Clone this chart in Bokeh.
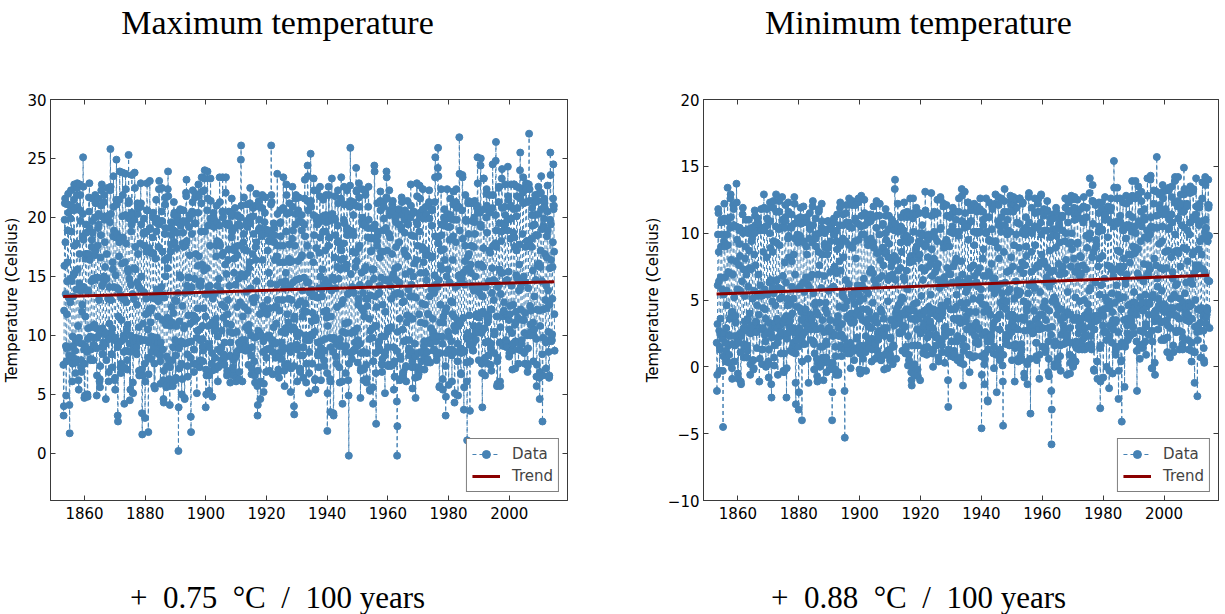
from bokeh.plotting import figure
from bokeh.layouts import row, column
from bokeh.models import Range1d, FixedTicker, LinearAxis, Legend, LegendItem
from bokeh.core.properties import value
from bokeh.embed import file_html
from bokeh.resources import INLINE

# ---------------- data (monthly means) ----------------
first_year = 1853

tmax_by_year = [
[7.5,3.2,4.0,12.1,15.9,19.8,21.2,21.6,17.9,13.5,9.1,4.9],
[7.8,8.9,11.8,14.6,16.2,18.9,21.1,22.0,20.4,13.2,9.0,8.3],
[4.1,1.7,7.9,12.8,14.8,19.9,22.3,21.0,18.8,14.6,8.2,6.1],
[7.6,9.9,9.1,13.3,15.1,20.6,21.5,22.8,17.6,15.3,8.7,8.0],
[6.8,7.7,9.6,13.9,17.8,21.9,22.5,22.9,20.9,15.6,10.8,9.4],
[6.2,5.4,9.8,14.4,16.9,22.8,20.6,21.9,19.7,13.8,7.3,7.9],
[6.9,9.3,12.0,12.6,18.4,20.3,25.1,22.6,18.1,14.1,8.8,4.7],
[7.6,4.9,9.1,11.6,16.5,16.9,19.4,18.7,16.9,13.8,8.6,5.0],
[4.8,9.7,10.6,13.8,16.9,21.7,20.5,22.9,19.1,16.4,9.9,8.0],
[7.9,8.8,10.7,14.6,17.5,18.1,19.7,21.6,18.7,14.8,7.9,9.1],
[9.2,9.8,10.9,14.7,16.8,20.0,21.9,21.2,17.2,14.9,10.6,8.9],
[4.9,6.6,9.8,14.9,17.6,19.1,21.6,20.3,19.4,13.0,10.1,6.1],
[6.3,5.6,7.4,16.6,18.5,21.0,22.3,20.1,22.8,14.2,10.6,8.4],
[9.1,9.0,9.4,14.5,15.0,21.3,21.9,19.8,17.9,15.8,10.1,9.3],
[4.6,10.2,7.9,14.8,16.9,20.1,20.1,22.5,19.9,13.1,9.7,6.1],
[6.9,9.7,11.0,14.1,19.6,22.3,25.8,22.6,20.3,13.0,8.4,10.2],
[8.4,10.6,7.3,16.2,15.6,18.4,23.5,20.9,18.9,14.1,9.6,6.2],
[6.4,5.4,9.8,15.1,18.3,21.5,24.9,21.1,18.6,14.0,9.0,3.2],
[2.7,9.2,11.6,13.9,16.7,17.9,21.5,23.9,18.3,13.4,7.3,6.8],
[7.6,9.5,11.3,13.2,16.1,20.1,23.8,21.9,18.3,13.1,10.0,8.6],
[7.3,4.2,9.7,13.0,16.2,20.2,23.7,22.4,17.8,12.8,10.4,8.7],
[7.9,7.1,10.9,15.6,15.4,21.2,25.3,21.4,19.9,14.8,9.3,4.5],
[8.6,5.4,10.0,14.3,18.8,19.4,20.4,23.6,20.2,13.5,9.6,6.0],
[5.1,8.9,9.5,13.1,15.7,19.8,23.8,22.5,17.5,15.6,9.8,9.6],
[8.6,9.0,8.4,12.6,14.5,21.2,20.3,20.8,16.9,14.2,10.7,7.0],
[6.6,9.5,9.7,14.0,17.8,20.9,22.9,21.2,19.4,15.0,7.1,3.4],
[1.6,6.6,9.6,11.0,13.7,18.7,18.6,19.9,17.6,13.6,7.6,3.0],
[6.1,9.6,11.8,13.1,17.1,18.8,20.6,22.9,20.6,11.9,10.5,8.1],
[1.8,6.7,9.4,12.2,17.4,19.0,23.1,19.1,17.0,11.1,12.1,8.0],
[8.6,9.9,12.3,13.2,17.0,18.3,20.0,20.4,16.9,13.3,9.0,5.7],
[7.6,9.5,5.5,13.1,16.5,19.6,19.9,21.5,18.8,13.9,9.8,8.5],
[9.3,9.4,11.6,12.9,17.5,19.4,22.4,23.1,19.7,13.2,8.3,7.8],
[5.9,9.4,8.9,13.5,14.1,20.5,22.5,19.7,17.1,11.3,8.8,6.2],
[4.6,4.3,7.0,13.2,16.4,18.6,21.1,21.7,19.1,15.0,10.9,5.6],
[5.8,8.2,7.4,11.5,15.7,22.4,23.9,21.8,16.6,11.4,7.9,6.3],
[5.7,4.1,7.3,10.8,17.1,19.1,17.7,19.6,18.5,12.4,11.1,7.9],
[6.0,5.7,9.0,11.9,18.9,21.3,20.2,20.4,17.9,13.0,9.6,6.2],
[8.3,6.4,10.8,12.9,17.4,18.7,19.6,20.1,19.7,13.6,9.2,0.2],
[3.9,8.9,7.2,11.2,15.1,20.6,20.7,19.5,19.3,14.9,9.5,7.6],
[5.0,7.5,6.3,12.5,17.8,18.7,19.7,20.6,17.5,10.6,10.8,4.7],
[4.6,9.3,13.6,17.6,19.6,22.1,21.8,23.2,18.0,14.2,8.4,7.4],
[6.5,9.4,11.7,14.9,14.9,19.2,20.2,19.9,16.8,13.7,11.0,8.1],
[3.1,1.8,9.5,14.1,18.6,20.5,20.3,21.3,22.3,11.7,11.2,7.6],
[6.9,8.8,11.6,14.8,19.5,21.7,22.0,19.5,16.9,11.4,7.6,7.5],
[5.1,9.8,10.4,12.3,15.9,20.4,22.8,21.8,16.7,14.3,10.5,7.3],
[9.6,7.8,7.9,14.2,14.6,18.8,21.2,23.4,22.2,16.0,10.8,9.7],
[7.8,8.7,9.1,12.3,15.5,22.3,23.3,24.0,18.8,13.5,11.6,3.9],
[7.1,5.0,6.6,13.5,15.7,20.6,23.9,21.6,19.3,14.1,10.8,9.3],
[6.6,5.3,9.0,14.2,17.6,19.9,23.3,21.4,19.4,13.5,7.6,7.0],
[8.5,4.8,11.1,13.1,13.6,19.7,20.4,19.9,19.2,13.5,10.4,7.1],
[8.1,10.6,10.9,11.4,16.7,17.6,21.0,19.6,18.0,14.2,9.9,6.1],
[7.4,7.3,8.8,14.8,17.9,19.3,23.4,21.3,17.6,13.8,8.6,7.5],
[7.9,9.0,10.4,12.6,16.8,20.5,23.4,20.0,17.0,11.5,8.4,8.0],
[8.1,7.5,9.4,12.4,16.0,19.5,22.1,23.4,19.4,15.2,11.0,6.6],
[7.0,6.8,11.8,13.0,16.4,17.3,19.5,20.5,19.3,14.2,10.3,8.3],
[6.0,9.4,8.2,10.9,18.3,20.1,21.6,20.3,18.8,17.3,10.2,7.3],
[6.8,6.6,7.9,15.3,16.5,17.2,19.1,20.8,17.5,14.3,8.2,6.1],
[6.4,8.6,10.3,12.4,16.8,20.2,19.4,20.1,17.6,14.8,6.3,9.4],
[6.9,8.8,9.2,12.8,19.3,20.0,24.9,26.1,21.0,15.2,9.6,9.2],
[6.1,8.8,11.6,15.0,17.9,18.6,21.7,17.3,15.0,12.4,9.6,9.1],
[8.7,9.0,10.7,13.7,17.2,19.7,19.6,21.1,19.2,15.3,12.1,8.7],
[7.5,10.4,10.9,15.7,16.2,20.0,21.2,22.5,19.5,14.0,10.0,8.3],
[6.7,7.2,9.0,13.1,16.9,20.9,20.1,20.8,18.6,12.8,6.8,7.8],
[9.8,6.6,6.0,13.2,17.5,16.4,21.0,22.0,17.9,14.6,9.9,5.7],
[3.2,4.1,7.0,10.4,18.9,21.4,20.9,19.8,19.1,11.8,10.2,4.6],
[6.1,10.0,10.0,11.9,18.4,18.6,20.8,21.9,16.4,12.5,8.6,9.5],
[5.2,5.9,8.6,12.3,19.6,20.4,19.0,21.7,18.8,12.0,6.9,8.1],
[8.8,9.9,11.8,13.0,17.2,18.9,18.6,18.9,18.0,15.3,10.0,7.0],
[9.8,8.9,12.3,14.4,18.0,21.1,26.1,21.9,21.3,18.6,9.5,9.6],
[6.7,8.6,9.3,10.7,19.5,19.1,17.9,18.5,16.4,12.4,9.3,8.1],
[8.4,9.4,11.0,12.4,14.3,16.7,23.7,20.3,17.6,13.0,7.1,6.9],
[8.5,6.4,8.2,12.1,16.2,19.5,20.6,19.6,18.4,14.5,10.3,9.4],
[8.0,8.6,9.1,13.0,17.6,20.8,23.4,20.7,16.2,14.0,7.0,5.7],
[7.5,10.2,10.6,14.6,15.3,18.8,22.8,21.9,20.3,11.8,8.9,7.6],
[7.4,7.4,11.1,13.1,16.5,17.7,21.2,20.4,16.2,14.2,8.6,5.2],
[7.2,9.1,10.5,13.0,16.3,18.2,22.6,20.9,18.9,14.5,10.7,7.4],
[4.0,3.3,11.6,11.4,17.6,19.4,21.6,20.3,21.9,14.7,10.3,9.2],
[8.8,6.1,9.9,12.6,16.3,20.6,20.3,21.7,19.7,14.8,10.2,7.2],
[6.9,7.0,8.3,12.9,16.6,19.6,20.2,18.9,16.8,13.8,11.6,8.3],
[9.0,6.4,9.0,12.1,14.9,19.4,21.6,23.2,18.4,12.7,10.0,9.6],
[6.0,7.6,12.0,14.5,17.6,21.4,24.4,23.5,20.6,14.5,9.6,5.1],
[6.8,8.6,9.6,13.6,16.8,21.1,25.4,21.4,20.9,13.9,10.1,11.2],
[7.6,10.0,11.9,13.3,16.2,20.2,23.3,22.3,18.5,13.4,10.3,6.2],
[6.3,5.4,11.5,11.3,17.4,19.8,20.0,22.3,19.4,13.2,9.4,8.3],
[8.4,8.6,7.3,14.0,17.0,19.6,21.8,22.6,18.3,15.0,9.5,6.2],
[8.9,8.3,13.9,13.3,15.6,20.0,20.1,21.5,18.8,14.3,12.0,7.9],
[7.4,8.7,9.7,14.7,17.2,18.8,20.2,21.9,19.6,12.1,11.5,6.8],
[1.9,5.1,10.8,14.5,17.6,22.6,19.7,21.9,18.3,14.1,9.8,6.3],
[3.5,6.1,9.0,11.6,13.8,19.9,23.3,19.8,20.3,14.9,9.7,8.6],
[3.4,3.2,9.8,14.7,16.6,19.8,19.9,21.8,18.5,14.0,8.2,9.5],
[7.6,9.3,12.4,15.8,17.9,19.3,22.3,21.2,18.0,14.8,9.1,7.3],
[9.4,6.0,9.7,15.6,16.4,17.4,21.6,23.4,17.2,12.7,9.1,6.1],
[4.2,10.3,13.0,16.5,17.8,19.8,22.6,21.1,19.5,15.8,11.0,8.6],
[6.8,10.2,9.1,15.7,16.0,18.9,22.3,19.1,18.5,13.5,11.1,6.2],
[4.9,-0.2,7.6,13.6,18.9,20.9,22.7,25.9,21.4,15.2,10.2,8.5],
[8.6,8.0,14.1,14.0,17.1,18.8,21.3,20.2,18.5,13.6,10.4,8.8],
[8.7,10.3,9.4,15.8,17.0,21.0,24.2,22.2,22.3,16.3,10.6,9.1],
[7.7,9.6,12.6,13.1,17.4,22.9,21.7,20.9,17.6,14.3,9.3,4.7],
[7.0,7.2,8.5,12.3,15.3,19.7,22.4,20.0,19.4,13.6,12.1,8.6],
[6.2,7.1,11.6,15.5,19.3,19.5,22.3,21.9,15.8,13.1,7.5,6.0],
[6.3,8.5,12.5,13.1,18.3,19.1,20.9,22.6,19.8,14.4,11.4,9.7],
[5.4,5.3,10.4,13.4,17.1,18.2,18.3,19.1,17.2,15.6,10.6,9.8],
[5.6,4.2,7.8,15.6,14.8,19.1,24.4,23.9,19.4,13.3,10.8,8.5],
[6.8,2.5,10.8,12.4,18.0,17.6,21.2,18.5,18.8,13.5,9.3,8.7],
[8.8,9.5,13.6,14.2,16.6,21.4,22.2,20.6,17.1,14.9,9.9,7.6],
[6.9,7.5,8.0,12.6,17.1,18.9,21.3,20.9,19.9,14.7,9.9,8.3],
[5.1,8.6,12.0,14.7,19.1,21.7,23.9,23.4,21.6,17.2,10.3,9.0],
[7.4,7.5,10.6,14.6,18.6,22.3,20.2,20.6,18.3,14.2,10.6,7.4],
[7.5,10.7,13.1,14.9,16.9,21.1,20.9,21.4,20.5,15.2,9.0,5.4],
[7.6,7.8,6.5,13.5,15.7,19.9,20.0,19.6,17.5,14.7,8.7,4.4],
[-0.2,2.3,10.3,13.6,15.8,20.4,20.7,19.4,17.9,14.5,11.4,6.2],
[6.3,8.2,8.0,13.5,19.2,19.0,21.7,21.3,20.2,12.8,10.5,6.7],
[6.4,6.9,9.5,12.9,17.2,19.8,18.7,20.6,16.9,15.2,7.3,7.4],
[6.1,9.6,11.1,11.7,16.7,21.4,20.1,20.3,19.4,13.9,8.7,8.9],
[8.3,9.6,11.6,13.3,15.4,20.0,22.8,21.0,18.5,14.3,8.6,7.3],
[7.8,5.5,11.4,13.3,15.0,20.5,20.4,20.4,18.4,16.1,9.3,6.4],
[8.2,4.7,7.3,13.2,16.4,19.6,22.9,21.8,19.4,17.6,8.5,6.5],
[6.9,6.7,7.3,11.8,18.8,22.7,20.4,21.6,20.1,15.3,11.1,7.1],
[7.8,8.6,8.5,12.7,17.5,17.3,22.4,20.7,19.9,16.2,9.1,9.5],
[7.1,8.1,11.0,12.6,15.3,16.8,20.9,20.3,17.2,14.7,9.5,8.6],
[7.7,8.0,11.8,11.8,16.8,21.1,21.3,22.3,19.9,13.3,9.6,7.7],
[9.4,9.3,10.6,13.9,16.6,19.3,20.6,20.7,16.7,11.4,10.1,10.3],
[9.9,8.7,8.8,13.6,15.1,21.3,23.4,25.1,18.4,14.3,9.5,8.6],
[7.9,8.3,9.9,14.1,18.3,24.2,25.9,23.5,17.8,14.7,9.9,5.6],
[5.7,8.5,11.1,12.6,15.9,17.2,22.4,19.4,18.5,15.6,9.9,9.3],
[6.3,5.4,11.1,11.6,17.3,19.3,20.0,20.7,19.8,16.4,12.0,7.4],
[3.2,4.8,8.5,12.3,15.0,19.9,22.4,20.3,19.2,15.6,10.3,8.7],
[5.8,9.9,8.8,14.5,18.1,19.2,19.9,21.6,20.2,12.9,9.5,8.8],
[8.3,6.1,11.8,12.8,16.4,18.4,21.1,22.2,19.8,11.6,10.8,4.3],
[5.1,8.6,10.4,14.1,17.9,21.3,22.4,20.8,19.8,14.2,11.3,7.8],
[9.3,4.9,10.9,10.8,15.1,20.9,26.8,23.7,18.9,14.8,11.0,8.9],
[6.8,6.7,8.5,14.7,14.9,20.6,23.6,23.4,18.2,15.3,11.5,8.6],
[3.7,5.6,8.7,14.3,16.3,17.6,21.9,19.8,19.7,15.6,7.7,9.9],
[6.1,1.1,9.7,10.2,16.7,21.2,21.4,18.6,16.9,15.7,11.7,9.2],
[3.6,7.8,9.2,16.0,15.3,17.6,21.3,21.2,19.7,14.2,9.9,8.8],
[9.3,8.7,10.8,13.8,17.5,20.0,19.6,21.4,18.6,15.0,9.6,10.4],
[10.2,10.3,11.6,11.8,20.8,21.0,25.1,22.9,20.4,16.0,10.6,7.9],
[10.8,11.5,13.6,14.1,20.4,19.4,24.4,25.0,19.2,16.0,10.2,7.6],
[6.8,3.9,12.0,13.3,15.8,17.4,23.3,23.3,20.7,14.1,10.6,8.1],
[6.6,9.4,11.8,14.1,20.0,22.0,22.4,21.0,18.7,11.4,11.1,7.6],
[9.5,8.3,11.6,14.6,17.2,21.9,20.4,20.5,17.0,12.2,7.5,8.9],
[9.3,7.0,12.2,13.6,15.7,20.8,24.5,21.9,17.6,14.7,13.0,10.1],
[8.5,10.3,10.1,14.6,17.8,20.2,24.8,26.4,18.9,17.5,11.6,5.7],
[7.8,5.9,8.1,14.1,14.3,21.3,22.5,22.6,19.5,15.6,9.4,6.1],
[5.7,10.7,13.5,15.3,18.0,18.8,23.3,24.1,20.8,15.3,11.6,9.2],
[9.1,12.0,12.1,12.8,19.5,19.3,20.9,22.8,20.2,14.6,9.6,9.3],
[9.4,9.0,11.7,14.7,18.9,19.8,24.3,21.8,21.5,15.4,11.3,8.2],
[8.5,10.5,11.8,12.5,18.2,20.9,21.0,22.8,19.9,14.2,10.2,8.7],
[7.1,9.2,9.3,12.6,18.7,20.7,22.8,22.8,18.3,17.5,10.9,7.2],
[9.5,11.1,12.0,15.1,17.2,20.1,21.8,22.6,20.8,14.8,11.5,9.4],
[7.6,8.8,13.8,16.0,17.7,22.5,24.0,25.5,21.6,14.1,12.2,8.7],
[9.3,9.6,11.3,14.7,18.6,22.3,22.1,23.4,21.2,15.0,11.3,8.5],
[10.2,7.6,11.9,14.5,17.5,22.6,22.9,22.4,21.3,18.0,10.0,7.6],
[6.9,7.4,8.9,14.0,17.6,22.8,27.1,21.4,22.4,17.7,12.5,10.0],
[10.9,10.3,12.1,18.2,17.5,20.2,20.8,21.4,19.3,15.5,11.1,7.8],
[10.0,10.5,10.5,13.3,19.4,20.2,21.9,21.3,18.5,14.7,9.7,6.5],
[5.7,7.5,12.2,15.9,18.5,21.4,22.0,22.6,20.3,16.1,12.1,6.4],
[4.6,6.9,10.8,15.8,17.2,22.1,23.5,20.7,19.0,14.6,8.4,2.7],
[6.6,9.8,12.2,19.3,19.1,19.9,21.6,21.2,20.8,16.9,13.0,9.6],
[9.4,7.2,14.2,12.3,16.6,18.4,20.5,22.7,18.9,13.8,10.3,8.6],
[6.5,6.4,6.6,12.6,15.7,19.8,25.5,23.6,19.4,16.4,9.5,9.9],
[9.6,10.1,13.1,15.8,17.9,21.6,24.5,20.7,21.0,17.1,11.8,8.7],
]

tmin_by_year = [
[1.8,-1.8,-0.6,3.2,6.1,9.9,11.8,11.5,8.6,6.4,2.7,-0.3],
[1.5,1.3,2.4,3.6,6.7,9.0,10.8,11.0,9.9,5.8,2.1,2.2],
[-0.3,-4.5,0.8,2.5,5.4,9.4,12.2,11.1,9.0,6.7,1.8,0.4],
[1.2,2.9,0.6,4.6,5.7,9.9,10.9,13.4,9.1,7.1,1.6,2.4],
[0.9,0.3,2.3,3.6,7.0,10.4,12.6,12.9,11.2,8.0,3.8,4.1],
[-0.1,-0.9,1.7,4.1,6.9,12.1,10.5,11.8,10.6,5.2,0.4,2.3],
[1.6,3.4,3.8,3.3,7.9,10.5,13.7,12.3,9.5,5.8,1.9,-0.5],
[1.9,-0.9,1.8,2.4,7.6,9.2,10.2,10.4,8.3,5.7,1.1,-1.1],
[-1.3,2.3,2.4,2.6,6.4,10.2,11.4,11.9,10.0,7.3,2.9,1.7],
[0.7,1.5,3.4,5.3,8.1,9.0,10.2,11.0,10.1,6.9,0.7,2.7],
[3.5,1.6,1.2,3.6,6.0,10.0,10.3,11.0,8.7,7.4,4.0,2.6],
[-0.6,0.2,2.5,3.1,7.3,9.4,10.1,10.4,9.6,5.1,2.9,0.5],
[0.5,-0.2,-0.1,5.7,8.4,10.0,11.7,11.3,10.6,7.6,3.4,2.6],
[3.3,2.6,1.4,4.6,5.3,11.1,11.1,10.8,10.2,6.9,3.9,2.9],
[-1.1,2.9,0.6,5.5,6.1,10.2,10.4,11.8,10.3,5.3,1.3,0.2],
[1.3,2.8,2.9,4.4,8.6,10.4,12.9,11.9,10.2,5.8,2.4,4.3],
[1.9,3.6,0.0,5.5,5.5,8.2,11.8,11.1,10.6,5.4,2.6,0.4],
[0.2,-0.8,1.3,3.3,6.3,10.0,12.3,10.9,8.9,6.5,2.5,-1.3],
[-2.3,2.2,2.9,4.9,5.9,8.6,11.9,12.4,9.4,5.5,0.7,0.1],
[1.6,3.0,3.3,4.6,6.4,10.5,12.9,11.6,9.3,6.5,3.6,2.9],
[1.8,-0.6,2.2,3.4,5.9,10.3,12.4,11.6,9.1,5.1,3.1,2.3],
[2.5,1.0,2.6,5.8,5.2,10.4,12.7,11.0,10.5,6.8,3.3,-0.3],
[3.3,-0.4,1.0,3.6,7.8,10.4,11.2,12.1,10.9,6.3,3.8,-2.3],
[-0.1,2.1,2.5,4.6,5.1,9.6,12.3,11.6,9.8,8.2,3.0,3.4],
[2.9,2.6,1.2,3.8,4.7,10.5,10.4,11.4,7.9,6.0,4.0,1.5],
[1.1,2.9,1.8,5.1,8.4,10.7,12.7,12.2,9.6,6.9,1.0,-1.2],
[-2.8,1.5,2.0,2.5,4.5,9.6,9.9,11.1,9.3,5.8,1.5,-3.2],
[-1.9,2.9,2.7,4.4,6.0,9.8,11.2,11.9,10.7,4.1,3.5,2.2],
[-4.0,0.4,1.7,2.4,6.3,9.4,12.0,10.8,9.3,3.7,5.6,1.7],
[2.6,3.2,4.1,4.3,6.7,9.0,11.2,10.8,8.4,6.2,2.9,0.6],
[2.9,3.3,-1.2,3.6,6.0,9.6,10.6,11.5,10.3,6.7,3.9,2.0],
[3.5,2.8,3.5,3.6,6.9,9.3,12.0,12.4,10.6,5.5,1.9,1.7],
[-0.2,3.1,1.0,4.6,4.8,9.9,11.1,9.6,9.0,4.1,2.8,0.6],
[-0.7,-1.1,0.3,3.9,6.9,8.6,11.6,11.8,10.0,7.6,4.8,0.0],
[0.3,1.5,0.2,2.9,5.9,10.4,12.2,10.9,8.4,3.5,1.5,0.7],
[0.3,-1.0,0.6,2.6,6.8,9.2,10.0,10.2,8.9,4.3,4.8,1.9],
[0.7,-0.4,1.7,4.0,8.4,10.3,10.9,10.9,8.9,5.7,2.9,0.3],
[2.9,-0.2,2.6,3.5,7.1,9.4,10.3,10.6,10.6,5.9,2.6,-4.0],
[-1.9,0.3,-0.1,2.3,6.0,9.9,11.1,10.8,9.9,7.5,2.4,1.5],
[-0.2,0.8,-0.6,3.3,7.0,9.4,10.2,11.4,8.8,3.5,3.8,-0.6],
[-0.4,2.9,2.3,4.5,7.9,10.6,11.9,12.3,9.1,7.2,1.6,1.4],
[0.8,2.4,3.2,5.4,5.5,9.6,11.4,10.6,8.2,5.2,4.4,2.1],
[-1.8,-5.3,1.3,4.5,6.5,9.4,11.5,12.1,10.8,3.7,4.9,1.6],
[1.2,1.0,3.8,3.6,6.2,10.8,12.6,10.5,9.1,3.9,1.0,1.8],
[-0.1,3.7,3.3,4.0,5.4,10.4,12.1,12.4,8.9,5.2,3.5,1.4],
[3.3,1.2,0.5,4.7,5.6,9.4,11.1,12.1,10.9,8.1,3.9,3.9],
[2.1,2.2,1.4,4.2,6.1,10.7,12.3,12.6,9.5,5.4,4.9,-0.2],
[1.6,1.0,-0.5,3.8,5.9,10.5,12.8,11.3,9.9,6.1,4.3,3.5],
[0.6,-0.3,1.3,5.1,6.6,9.9,12.5,11.5,10.6,5.8,1.6,1.1],
[2.3,-0.3,3.5,3.3,4.3,9.5,11.1,10.8,9.1,5.5,3.0,1.4],
[1.9,4.1,3.6,3.0,7.1,9.5,11.4,10.9,9.6,7.3,2.9,0.4],
[2.1,1.3,1.4,4.8,7.0,9.3,12.0,11.2,8.9,6.5,1.8,1.8],
[0.6,1.7,3.4,3.8,6.1,10.4,12.4,11.3,8.5,3.3,1.2,2.0],
[2.4,0.9,2.2,2.7,6.6,9.9,11.3,12.2,8.6,8.0,4.3,0.5],
[0.6,0.5,2.6,4.1,6.8,8.9,10.6,10.7,8.9,7.6,3.6,2.6],
[-0.2,2.9,0.9,2.3,8.5,10.0,11.8,11.3,9.5,8.6,2.9,0.9],
[0.9,-0.1,1.2,4.9,6.5,8.2,10.3,11.3,9.2,6.8,1.3,0.5],
[0.9,2.2,2.1,3.5,7.5,10.6,10.7,11.0,7.8,6.9,0.2,3.5],
[1.6,1.6,1.5,3.1,8.3,10.2,13.3,14.0,10.7,6.5,3.2,4.1],
[0.6,3.8,4.3,3.5,8.0,10.3,12.2,10.1,7.2,4.6,3.3,3.6],
[2.6,2.5,3.7,4.8,7.4,9.3,10.5,11.2,10.3,8.6,5.2,2.6],
[1.2,4.0,3.1,5.1,6.7,10.2,11.5,12.3,9.7,6.5,3.0,3.9],
[1.0,1.3,1.5,4.3,7.2,9.8,11.2,11.6,9.3,5.8,0.1,2.3],
[4.1,0.9,0.5,4.3,7.9,7.8,11.4,12.6,9.5,8.3,3.6,-0.4],
[-1.0,-1.4,0.0,1.6,7.9,11.1,12.6,11.5,10.1,4.7,4.2,-0.6],
[0.2,3.6,1.6,3.5,8.4,8.7,11.4,11.9,9.0,4.8,2.8,3.8],
[-0.2,-0.7,1.6,3.6,8.1,9.4,10.0,11.5,8.4,4.0,-1.0,2.5],
[2.8,2.6,3.9,5.3,7.4,10.0,10.6,9.8,9.2,6.5,3.0,1.0],
[4.1,1.4,3.3,4.2,7.2,9.0,13.1,11.7,11.4,9.1,1.4,3.6],
[0.9,2.7,1.5,2.2,8.2,9.5,9.7,9.9,7.5,4.5,3.0,3.0],
[2.4,3.3,3.4,4.0,5.4,7.7,13.0,11.3,8.8,6.8,1.0,1.3],
[2.9,0.0,1.2,4.3,8.1,10.1,11.6,11.4,9.7,7.1,4.2,3.9],
[2.2,2.4,1.6,3.8,7.4,9.4,12.5,11.5,7.7,6.5,0.7,0.4],
[2.1,4.2,3.6,5.9,6.0,10.3,12.7,12.5,10.4,4.6,3.8,1.9],
[1.6,1.1,4.0,4.4,6.4,9.2,12.0,12.2,8.9,6.7,2.9,0.3],
[2.6,2.3,3.0,4.6,6.2,9.5,12.1,11.3,9.3,7.4,4.9,1.0],
[-1.0,-3.0,1.3,2.6,7.0,9.0,11.3,11.2,10.1,6.9,4.3,4.3],
[2.6,0.8,1.9,4.3,6.3,10.5,11.5,11.9,10.0,7.5,3.6,0.9],
[1.2,0.7,1.0,4.3,7.8,10.1,11.6,11.0,8.1,4.5,5.4,1.9],
[3.5,0.5,2.3,3.6,6.5,9.8,11.6,12.6,10.1,6.1,3.6,3.3],
[0.3,0.7,3.3,4.8,7.9,10.9,13.3,12.8,10.9,6.9,2.1,-1.4],
[1.6,0.2,1.2,4.4,6.3,10.4,13.1,11.5,10.7,6.1,3.4,5.6],
[1.5,3.8,2.8,4.8,5.8,10.5,12.3,12.3,9.5,6.6,4.1,0.9],
[0.9,-0.4,4.1,3.0,7.4,10.9,11.7,12.0,10.9,6.2,2.7,2.6],
[2.9,2.8,0.7,5.1,7.6,10.1,12.1,12.2,9.1,6.8,2.3,0.8],
[3.1,1.8,4.1,3.3,6.3,10.1,11.6,12.0,10.0,7.1,6.0,1.7],
[1.9,2.8,2.9,5.0,7.4,10.1,11.8,12.6,10.1,5.2,5.8,0.8],
[-4.6,-0.6,2.4,4.7,8.1,11.6,11.0,10.6,8.8,6.8,4.1,0.2],
[-1.3,0.6,1.0,2.6,4.6,10.0,12.6,11.2,10.1,6.8,2.2,1.9],
[-2.5,-2.6,1.3,4.3,7.1,9.5,11.2,12.3,9.4,6.9,2.4,3.9],
[1.9,2.4,2.3,5.9,7.7,10.3,12.0,11.8,9.4,6.6,2.9,1.0],
[3.3,-0.1,1.5,5.5,6.6,9.3,12.2,12.9,9.4,6.2,3.7,0.9],
[-1.9,3.6,3.6,5.8,8.9,10.9,12.7,12.1,10.6,8.1,3.9,2.8],
[0.5,3.9,1.3,4.8,6.2,10.1,12.6,11.2,10.6,5.5,4.5,0.1],
[-1.1,-4.4,0.9,5.0,8.6,11.6,12.4,13.3,10.6,6.3,4.4,2.0],
[2.4,1.7,4.3,4.9,7.1,9.9,11.0,11.6,10.2,5.6,3.8,2.9],
[2.3,2.9,1.6,5.8,7.2,10.1,12.8,12.4,12.1,8.2,3.9,2.6],
[0.5,3.4,3.3,3.9,7.5,11.6,12.7,12.1,9.1,5.1,3.0,-1.1],
[1.4,1.7,1.6,3.7,6.4,9.9,12.5,11.9,10.8,5.7,5.4,2.8],
[0.6,0.4,3.6,5.4,8.9,10.7,12.6,12.6,7.3,5.6,0.9,0.6],
[0.5,1.7,1.3,3.7,7.8,10.0,12.2,12.3,10.2,7.0,4.9,3.5],
[-0.5,-0.8,2.7,3.7,7.6,9.9,10.4,11.2,9.0,8.3,4.4,4.2],
[0.2,-1.3,0.4,4.7,5.5,10.2,12.7,13.0,10.8,6.1,3.2,2.9],
[0.6,-3.5,2.7,3.0,7.1,8.6,11.9,10.0,10.2,6.3,2.5,3.0],
[2.7,2.6,6.0,4.2,5.9,10.5,12.6,11.5,9.1,7.4,3.5,1.8],
[0.8,1.8,0.5,3.6,7.6,10.4,12.2,12.5,11.6,7.5,3.2,2.8],
[-0.9,0.9,3.9,5.6,7.8,10.8,12.8,12.9,9.9,8.4,3.9,3.9],
[1.5,1.5,2.9,4.5,7.9,11.3,11.8,11.5,10.2,7.7,4.9,1.4],
[1.1,4.4,3.5,6.3,6.7,10.2,11.6,12.4,11.7,7.4,2.9,-0.4],
[1.9,0.6,-0.7,4.2,6.0,8.7,10.8,11.1,9.7,7.1,2.4,-1.8],
[-5.8,-3.2,3.0,4.9,6.4,10.3,11.4,11.1,9.9,7.2,5.2,0.2],
[0.0,1.6,1.9,5.0,8.9,10.3,11.9,11.6,9.8,4.6,3.9,0.6],
[0.4,0.1,1.7,4.3,7.7,10.4,10.7,11.1,9.3,6.9,0.8,1.6],
[-0.3,3.5,2.4,4.3,7.3,11.3,11.2,11.3,10.2,7.5,2.4,3.1],
[1.7,2.7,3.7,3.8,7.0,9.4,12.6,11.9,10.0,8.0,1.9,1.8],
[2.3,-0.6,2.4,4.1,5.6,10.8,11.7,12.3,11.6,9.2,3.9,0.9],
[2.9,-0.5,0.3,3.9,7.5,9.3,12.8,12.5,10.0,8.8,1.8,0.6],
[0.7,0.0,0.2,3.5,8.1,11.9,11.4,12.7,11.0,7.1,5.2,0.4],
[1.6,1.9,1.4,3.7,7.2,9.2,12.5,11.5,9.3,7.5,2.5,3.4],
[1.3,1.8,2.9,4.9,6.8,8.3,11.8,11.1,8.2,7.0,3.6,3.1],
[1.6,1.3,2.0,2.8,7.6,10.8,12.0,12.7,11.0,5.0,2.2,1.3],
[3.7,2.9,2.4,3.9,7.3,9.8,11.2,11.9,8.9,3.8,3.8,4.7],
[3.6,1.6,1.5,4.2,5.7,9.6,13.0,14.1,10.0,5.9,3.0,2.3],
[1.7,1.5,1.3,3.3,8.2,12.4,13.6,12.4,10.7,8.6,3.8,-0.2],
[-0.3,2.8,3.5,3.4,6.3,8.9,12.1,12.2,9.5,9.1,3.8,3.8],
[0.4,-0.9,3.8,3.5,7.5,10.1,11.5,12.3,10.5,8.1,5.4,1.4],
[-3.1,-1.1,1.6,4.2,6.1,10.3,12.3,11.8,10.2,8.3,3.9,3.1],
[-0.8,3.8,2.6,4.3,6.6,11.0,11.4,12.7,11.4,5.2,2.6,2.6],
[2.0,0.0,4.9,4.4,7.6,9.7,11.9,12.0,11.0,4.4,4.9,-1.6],
[-0.3,2.3,3.1,4.6,7.5,11.7,12.6,11.9,10.8,7.3,5.5,1.8],
[4.1,-0.5,3.5,2.8,6.8,10.5,15.4,13.4,10.8,7.3,4.8,3.3],
[1.1,0.9,1.5,3.5,6.1,10.7,12.6,13.4,10.9,8.7,5.4,2.6],
[-2.4,-0.3,1.5,5.1,7.5,8.6,12.6,11.3,10.8,7.1,0.4,4.3],
[0.5,-4.1,1.8,1.7,7.4,10.3,12.3,10.2,7.5,8.1,5.2,3.5],
[-1.5,1.7,1.5,6.5,6.2,9.6,12.8,12.2,10.6,6.9,3.1,2.5],
[3.6,2.0,3.6,4.6,8.4,10.6,11.4,12.4,10.4,7.8,2.3,4.7],
[3.7,3.6,4.1,3.4,8.4,10.1,13.9,12.8,11.2,9.0,3.0,2.5],
[4.8,5.6,4.8,4.4,8.5,10.5,12.6,13.9,10.0,8.9,3.9,1.9],
[1.2,-1.8,4.3,4.6,7.0,8.8,13.5,12.9,10.9,6.7,4.4,1.5],
[0.6,2.7,4.4,5.2,9.4,11.6,13.1,12.4,10.5,4.7,4.8,1.4],
[4.2,1.7,2.6,6.4,7.7,11.2,11.8,11.0,9.7,5.4,1.9,3.0],
[3.2,0.9,4.5,4.8,6.8,10.2,14.1,12.8,9.6,7.0,7.6,3.9],
[2.4,4.8,2.4,4.7,7.3,9.9,14.0,14.3,11.2,10.5,5.2,-0.1],
[2.7,-0.1,1.9,5.2,5.4,10.4,12.2,13.2,10.4,8.1,3.4,0.3],
[-0.6,3.8,4.2,4.0,7.6,11.3,13.1,15.7,10.4,6.6,6.0,3.5],
[2.8,3.6,5.1,4.6,9.2,11.4,12.1,12.9,11.8,7.4,3.4,3.3],
[3.4,2.0,4.3,5.7,9.4,10.5,13.6,13.1,12.6,7.3,4.7,2.1],
[2.0,3.4,4.1,4.6,8.6,11.4,11.8,13.2,11.5,7.4,4.3,3.5],
[1.1,2.2,3.1,4.1,8.7,10.3,13.2,13.4,10.4,11.0,4.0,0.7],
[2.9,4.4,3.9,5.1,8.2,11.4,12.7,13.5,10.8,7.1,6.6,4.4],
[1.6,1.1,3.9,5.4,8.6,12.3,13.9,14.2,9.9,5.2,6.1,2.6],
[2.7,2.6,3.8,6.2,8.7,12.0,12.4,14.2,11.1,8.5,4.5,2.7],
[3.6,1.3,4.4,5.1,7.5,11.9,12.9,12.2,11.6,10.6,2.6,1.5],
[1.7,1.3,2.2,4.8,8.9,11.6,14.9,12.9,13.3,10.4,5.5,4.1],
[4.5,3.9,3.5,6.3,8.8,12.0,12.2,12.1,10.2,7.9,3.9,2.0],
[4.8,1.3,3.4,4.5,9.9,10.8,13.0,13.5,10.8,6.5,4.6,1.2],
[0.4,1.8,3.6,6.2,8.4,11.2,13.1,13.3,11.1,8.6,7.0,1.1],
[-1.2,1.1,3.0,5.0,7.6,11.4,14.1,12.0,11.0,7.3,2.6,-2.2],
[2.0,4.3,3.1,7.6,8.8,10.6,11.9,12.0,12.2,9.4,7.4,3.3],
[2.7,0.7,4.4,4.2,8.4,10.9,12.6,13.8,9.6,7.3,3.8,2.7],
[1.4,0.5,0.3,3.9,7.0,10.1,14.2,13.6,11.0,10.4,3.7,3.2],
[3.9,4.4,4.2,6.5,9.4,12.1,14.0,11.9,12.1,9.8,6.4,2.9],
]

# fitted trend lines (end points)
trend_years = [1853.0, 2014.9]
trend_max = [13.3, 14.55]
trend_min = [5.44, 6.86]

x_ticks = [1860, 1880, 1900, 1920, 1940, 1960, 1980, 2000]
max_y_ticks = [0, 5, 10, 15, 20, 25, 30]
min_y_ticks = [-10, -5, 0, 5, 10, 15, 20]
titles = ["Maximum temperature", "Minimum temperature"]
SP = "\u2002"  # en space, mimics the wide math spacing of the original
rates = ["+" + SP + "0.75" + SP + "\u00b0C" + SP + "/" + SP + "100 years",
         "+" + SP + "0.88" + SP + "\u00b0C" + SP + "/" + SP + "100 years"]
series_labels = ["Data", "Trend"]

# ---------------- styling / geometry ----------------
TOP_H = 50        # strip holding the title
BOT_H = 40        # strip holding the rate text
MAIN_H = 614 - TOP_H - BOT_H
BORDER_TOP = 49   # frame top at y = 99 on the page
FRAME_H = 401
BORDER_BOTTOM = MAIN_H - BORDER_TOP - FRAME_H
DATA_COLOR = "steelblue"
TREND_COLOR = "#8b0000"
AX_COLOR = "#3a3a3a"
SANS = "DejaVu Sans"
SERIF = "Liberation Serif"


def flatten(rows):
    xs, ys = [], []
    for i, r in enumerate(rows):
        for m, v in enumerate(r):
            xs.append(first_year + i + (m + 0.5) / 12.0)
            ys.append(v)
    return xs, ys


def text_strip(w, h, txt, cx, cy, size):
    # y axis runs top-down in pixels; text is vertically centred on cy
    f = figure(width=w, height=h, x_range=Range1d(0, w), y_range=Range1d(h, 0),
               output_backend="svg", toolbar_location=None, min_border=0,
               x_axis_type=None, y_axis_type=None)
    f.outline_line_color = None
    f.background_fill_color = "white"
    f.border_fill_color = "white"
    f.text(x=[cx], y=[cy], text=[txt], text_align="center",
           text_baseline="middle", text_font=value(SERIF),
           text_font_size=value(size), text_color="black")
    return f


def make_panel(rows, trend, yr, yticks, fig_w, bl, br, xr):
    p = figure(width=fig_w, height=MAIN_H, x_range=Range1d(*xr), y_range=Range1d(*yr),
               output_backend="svg", toolbar_location=None,
               min_border_left=bl, min_border_right=br,
               min_border_top=BORDER_TOP, min_border_bottom=BORDER_BOTTOM)
    p.xgrid.visible = False
    p.ygrid.visible = False
    p.outline_line_color = AX_COLOR
    p.background_fill_color = "white"
    p.border_fill_color = "white"

    for ax in (p.xaxis[0], p.yaxis[0]):
        ax.major_tick_in = 5
        ax.major_tick_out = 0
        ax.minor_tick_line_color = None
        ax.axis_line_color = AX_COLOR
        ax.major_tick_line_color = AX_COLOR
        ax.major_label_text_font = SANS
        ax.major_label_text_font_size = "15px"
        ax.major_label_text_color = "black"
    p.xaxis[0].ticker = FixedTicker(ticks=x_ticks)
    p.xaxis[0].major_label_standoff = 6
    p.yaxis[0].ticker = FixedTicker(ticks=yticks)
    p.yaxis[0].major_label_standoff = 4
    p.yaxis[0].major_label_overrides = {t: ("\u2212" + str(-t)) for t in yticks if t < 0}
    p.yaxis[0].axis_label = "Temperature (Celsius)"
    p.yaxis[0].axis_label_text_font = SANS
    p.yaxis[0].axis_label_text_font_size = "15px"
    p.yaxis[0].axis_label_text_font_style = "normal"
    p.yaxis[0].axis_label_text_color = "black"
    p.yaxis[0].axis_label_standoff = 3

    # mirrored inward ticks on the top and right edges
    for side, ticks in (("above", x_ticks), ("right", yticks)):
        ax = LinearAxis(ticker=FixedTicker(ticks=ticks),
                        major_label_overrides={t: "" for t in ticks},
                        major_label_text_font_size="1px",
                        major_label_standoff=0, major_tick_in=5, major_tick_out=0,
                        minor_tick_line_color=None, axis_line_color=AX_COLOR,
                        major_tick_line_color=AX_COLOR)
        p.add_layout(ax, side)

    xs, ys = flatten(rows)
    r_line = p.line(xs, ys, line_color=DATA_COLOR, line_width=1, line_dash="4 3")
    r_pts = p.scatter(xs, ys, size=7, fill_color=DATA_COLOR, line_color=DATA_COLOR)
    r_trend = p.line(trend_years, trend, line_color=TREND_COLOR, line_width=3)

    legend = Legend(items=[LegendItem(label=series_labels[0], renderers=[r_line, r_pts]),
                           LegendItem(label=series_labels[1], renderers=[r_trend])],
                    location="bottom_right", margin=8, padding=5, spacing=2,
                    glyph_width=28, glyph_height=20, label_height=20, label_standoff=12,
                    label_text_font=SANS, label_text_font_size="15px",
                    border_line_color="black", border_line_width=1,
                    background_fill_color="white", background_fill_alpha=1.0)
    p.add_layout(legend)
    return p


p1 = make_panel(tmax_by_year, trend_max, (-4, 30), max_y_ticks,
                612, 48, 45, (1848.8, 2019.2))
p2 = make_panel(tmin_by_year, trend_min, (-10, 20), min_y_ticks,
                613, 91, 7, (1848.7, 2017.9))

# title baseline at page y=33, rate text baseline at page y=607
t1 = text_strip(612, TOP_H, titles[0], 277, 21.5, "34px")
t2 = text_strip(613, TOP_H, titles[1], 306, 21.5, "34px")
b1 = text_strip(612, BOT_H, rates[0], 277, 596.5 - (614 - BOT_H), "31px")
b2 = text_strip(613, BOT_H, rates[1], 306, 596.5 - (614 - BOT_H), "31px")

layout = column(row(t1, t2), row(p1, p2), row(b1, b2))
open("out.html", "w").write(file_html(layout, INLINE))
